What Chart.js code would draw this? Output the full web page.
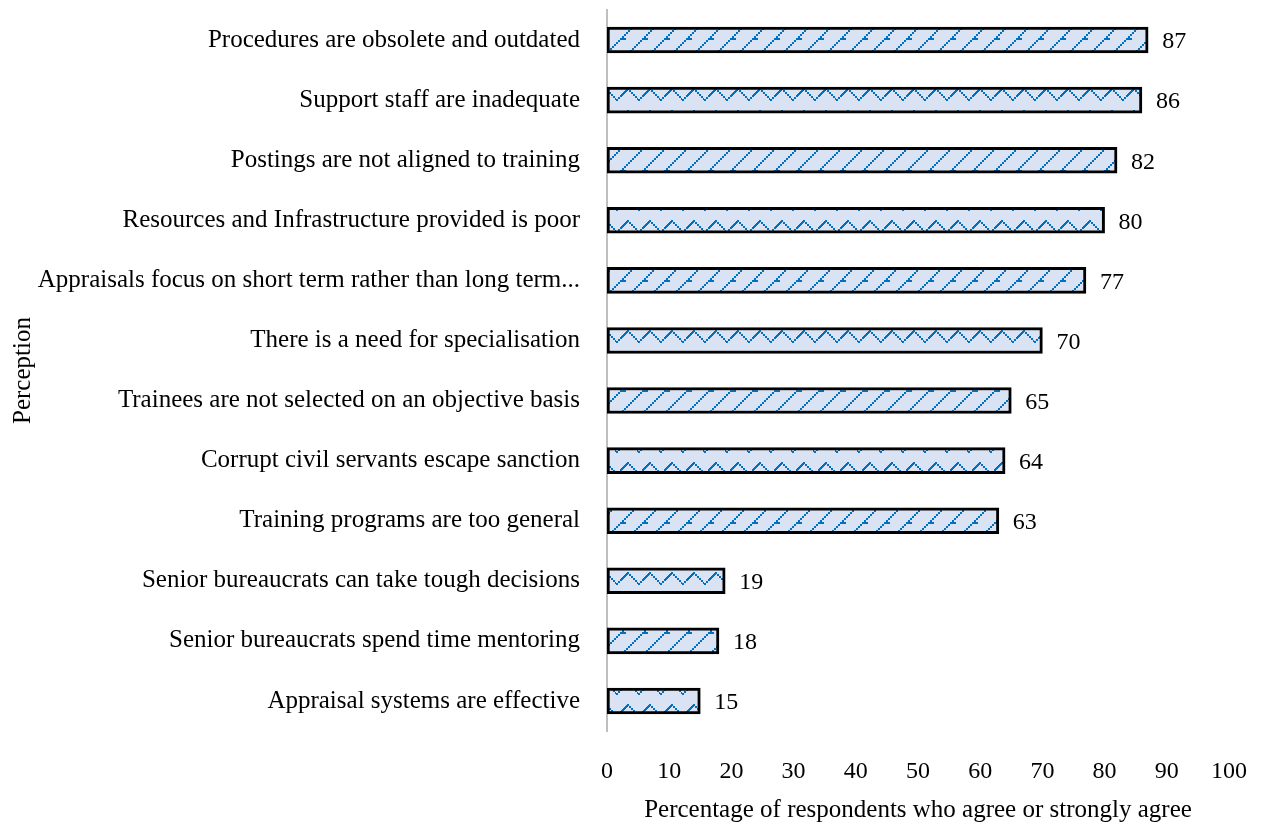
<!DOCTYPE html>
<html><head><meta charset="utf-8">
<script src="https://cdn.jsdelivr.net/npm/chart.js@4/dist/chart.umd.min.js"></script>
<style>html,body{margin:0;padding:0;background:#fff}#wrap{width:1262px;height:825px}</style>
</head><body><div id="wrap"><canvas id="c" width="1262" height="825"></canvas></div>
<script>
const categories = [
  "Procedures are obsolete and outdated",
  "Support staff are inadequate",
  "Postings are not aligned to training",
  "Resources and Infrastructure provided is poor",
  "Appraisals focus on short term rather than long term...",
  "There is a need for specialisation",
  "Trainees are not selected on an objective basis",
  "Corrupt civil servants escape sanction",
  "Training programs are too general",
  "Senior bureaucrats can take tough decisions",
  "Senior bureaucrats spend time mentoring",
  "Appraisal systems are effective"
];
const values = [87, 86, 82, 80, 77, 70, 65, 64, 63, 19, 18, 15];
const xTicks = [0,10,20,30,40,50,60,70,80,90,100];
const yTitle = "Perception";
const xTitle = "Percentage of respondents who agree or strongly agree";

const FONT = "'Liberation Serif', 'DejaVu Serif', serif";

function makePattern(kind){
  const s = 22;
  const cv = document.createElement('canvas');
  cv.width = s; cv.height = s;
  const g = cv.getContext('2d');
  g.fillStyle = '#DAE3F3';
  g.fillRect(0,0,s,s);
  g.fillStyle = '#0070C0';
  const px = (x,y)=>{ g.fillRect(((x%s)+s)%s, ((y%s)+s)%s, 2, 2); };
  if (kind === 0){
    for (let i=0;i<s;i+=2){ px(i, s-2-i); }
    for (let k=0;k<6;k+=2){ px(4+k, s-2-4); }
  } else {
    for (let i=0;i<s/2;i+=2){ px(i, s/2 - i); px(s/2 + i, i); }
    for (let i=0;i<6;i+=2){ px(s/2 - 2 - i, 2 + i); }
  }
  return g.createPattern(cv, 'repeat');
}
const patterns = [makePattern(0), makePattern(1)];
const bg = values.map((v,i)=>patterns[i%2]);

const labelPlugin = {
  id:'valLabels',
  afterDatasetsDraw(chart){
    const ctx = chart.ctx;
    const meta = chart.getDatasetMeta(0);
    ctx.save();
    ctx.font = "24px " + FONT;
    ctx.fillStyle = '#000';
    ctx.textAlign = 'left';
    ctx.textBaseline = 'middle';
    meta.data.forEach((el,i)=>{
      ctx.fillText(String(values[i]), el.x + 14, el.y + 2);
    });
    ctx.restore();
  }
};

new Chart(document.getElementById('c'), {
  type:'bar',
  data:{ labels:categories, datasets:[{ data:values, backgroundColor:bg, borderColor:'#000', borderWidth:3, borderSkipped:false, barThickness:26 }]},
  options:{
    indexAxis:'y',
    responsive:false,
    animation:false,
    devicePixelRatio:1,
    layout:{ padding:{ top:10, right:33, left:0, bottom:0 } },
    plugins:{ legend:{display:false}, tooltip:{enabled:false} },
    scales:{
      x:{
        min:0, max:100,
        afterBuildTicks(s){ s.ticks = xTicks.map(v=>({value:v})); },
        grid:{ display:false, drawTicks:false },
        border:{ display:false },
        ticks:{ font:{family:FONT, size:24}, color:'#000', padding:26, maxRotation:0 },
        title:{ display:true, text:xTitle, font:{family:FONT, size:25}, color:'#000', padding:{top:12,bottom:0} },
        afterFit(s){ s.height = 94; s.paddingLeft = 0; s.paddingRight = 0; }
      },
      y:{
        grid:{ display:false, drawTicks:false },
        border:{ display:true, color:'#BFBFBF', width:2 },
        ticks:{ font:{family:FONT, size:25}, color:'#000', padding:27, autoSkip:false },
        title:{ display:true, text:yTitle, font:{family:FONT, size:25}, color:'#000', padding:{top:8,bottom:0} },
        afterFit(s){ s.width = 607; s.paddingTop = 0; s.paddingBottom = 0; }
      }
    }
  },
  plugins:[labelPlugin]
});
</script></body></html>
